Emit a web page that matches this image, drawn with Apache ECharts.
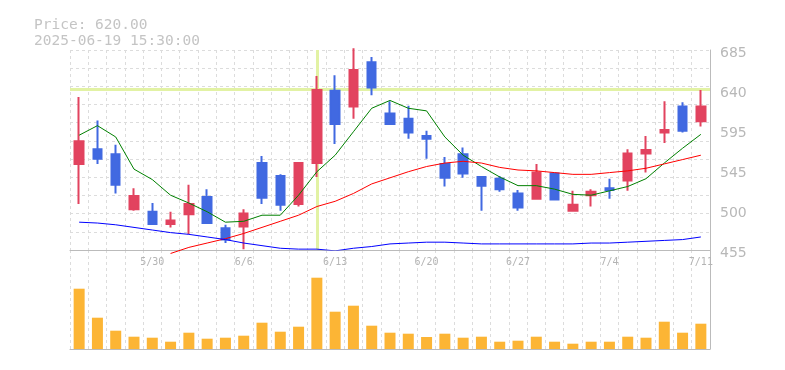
<!DOCTYPE html>
<html>
<head>
<meta charset="utf-8">
<script src="https://cdn.jsdelivr.net/npm/echarts@6/dist/echarts.min.js"></script>
<style>html,body{margin:0;padding:0;background:#fff;}#c{width:785px;height:370px;}</style>
</head>
<body>
<div id="c"></div>
<script>
var dates = ['5/26','5/27','5/28','5/29','5/30','6/2','6/3','6/4','6/5','6/6','6/9','6/10','6/11','6/12','6/13','6/16','6/17','6/18','6/19','6/20','6/23','6/24','6/25','6/26','6/27','6/30','7/1','7/2','7/3','7/4','7/7','7/8','7/9','7/10','7/11'];
var dateLabels = ['5/30','6/6','6/13','6/20','6/27','7/4','7/11'];
// [open, close, low, high]
var ohlc = [
 [554,580,508,631],[571,560,554,604],[565,530,520,576],[502,517,500,526],[499,485,484,509],
 [485,489,481,499],[496,508,473,530],[516,486,486,525],[480,467,463,484],[482,497,456,502],
 [555,515,508,563],[540,507,500,542],[508,555,505,555],[555,639,539,655],[638,600,577,656],
 [620,662,606,687],[671,642,633,677],[612,600,600,626],[606,590,583,621],[586,583,560,592],
 [554,538,528,562],[565,543,538,573],[539,529,500,540],[537,525,522,540],[520,504,500,524],
 [514,544,514,554],[543,513,513,543],[500,507,500,523],[518,522,505,525],[526,524,514,537],
 [535,566,523,571],[566,570,544,586],[590,593,578,626],[620,592,590,625],[603,620,597,639]
];
var maShort = [587,598,585,548,536,518,509,499,487,488,495,495,518,545,564,591,618,627,618,615,585,564,551,539,529,529,525,519,518,523,528,537,555,572,588];
var maMid = [null,null,null,null,null,451,458,463,468,474,481,488,495,505,511,520,531,538,545,551,555,557,555,550,547,546,544,542,542,544,546,549,554,559,564];
var maLong = [487,486,484,481,478,475,473,470,467,463,460,457,456,456,454,457,459,462,463,464,464,463,462,462,462,462,462,462,463,463,464,465,466,467,470];
var volume = [60300,31300,18300,12300,11300,7300,16300,10300,11300,13300,26300,17300,22300,71300,37300,43300,23300,16300,15300,12000,15300,11300,12300,7300,8300,12300,7300,5300,7300,7300,12300,11300,27300,16300,25300];
var yTickLabels = ['455','500','545','595','640','685'];
var priceText = 'Price: 620.00';
var timeText = '2025-06-19 15:30:00';
var crossPrice = 640;
var crossDate = '6/12';

var chart = echarts.init(document.getElementById('c'));
var dash = {color:'#dcdcdc', type:[3,3], width:1};
chart.setOption({
  animation:false,
  backgroundColor:'#fff',
  title:{text:priceText+'\n'+timeText, left:29, top:12,
    textStyle:{fontFamily:'DejaVu Sans Mono', fontSize:14.5, fontWeight:'normal', color:'#c4c4c4', lineHeight:16}},
  grid:[{left:70,right:75,top:50,height:200},{left:70,right:75,top:250,height:99}],
  xAxis:[
    {type:'category', gridIndex:0, data:dates, boundaryGap:true,
     axisLine:{lineStyle:{color:'#bbb'}}, axisTick:{show:false},
     axisLabel:{interval:function(i,v){return dateLabels.indexOf(v)>=0;}, margin:7, color:'#b4b4b4', fontFamily:'DejaVu Sans Mono', fontSize:10},
     splitLine:{show:true, interval:0, lineStyle:dash}},
    {type:'category', gridIndex:1, data:dates, boundaryGap:true,
     axisLine:{lineStyle:{color:'#bbb'}}, axisTick:{show:false}, axisLabel:{show:false},
     splitLine:{show:true, interval:0, lineStyle:dash}}
  ],
  yAxis:[
    {type:'value', gridIndex:0, position:'right', min:455, max:685, interval:46,
     axisLine:{show:true, lineStyle:{color:'#bbb'}}, axisTick:{show:false},
     axisLabel:{margin:10, verticalAlign:'top', lineHeight:6, color:'#b8b8b8', fontFamily:'DejaVu Sans', fontSize:14, formatter:function(v,i){return yTickLabels[i];}},
     splitLine:{show:false}},
    {type:'value', gridIndex:1, position:'right', min:0, max:99000,
     axisLine:{show:true, lineStyle:{color:'#bbb'}}, axisTick:{show:false}, axisLabel:{show:false}, splitLine:{show:false}},
    {type:'value', gridIndex:0, min:0, max:11, interval:1, show:true, position:'left',
     axisLine:{show:false}, axisTick:{show:false}, axisLabel:{show:false},
     splitLine:{show:true, lineStyle:dash}}
  ],
  series:[
    {type:'line', xAxisIndex:0, yAxisIndex:0, data:[], silent:true, z:1,
     markLine:{silent:true, z:1, symbol:'none', label:{show:false},
       lineStyle:{color:'#e2f2a4', type:'solid', width:3},
       data:[{yAxis:crossPrice},{xAxis:crossDate}]}},
    {type:'candlestick', xAxisIndex:0, yAxisIndex:0, data:ohlc, barWidth:9, clip:false, z:3,
     itemStyle:{color:'#e2435f', color0:'#4169e1', borderColor:'#e2435f', borderColor0:'#4169e1', borderWidth:2}},
    {type:'line', xAxisIndex:0, yAxisIndex:0, data:maShort, showSymbol:false, clip:false, z:4, lineStyle:{color:'#008000', width:1}},
    {type:'line', xAxisIndex:0, yAxisIndex:0, data:maMid, showSymbol:false, clip:false, z:4, lineStyle:{color:'#ff0000', width:1}},
    {type:'line', xAxisIndex:0, yAxisIndex:0, data:maLong, showSymbol:false, z:4, lineStyle:{color:'#0000ff', width:1}},
    {type:'bar', xAxisIndex:1, yAxisIndex:1, data:volume, barWidth:11, itemStyle:{color:'#fcb535'}}
  ]
});
</script>
</body>
</html>
